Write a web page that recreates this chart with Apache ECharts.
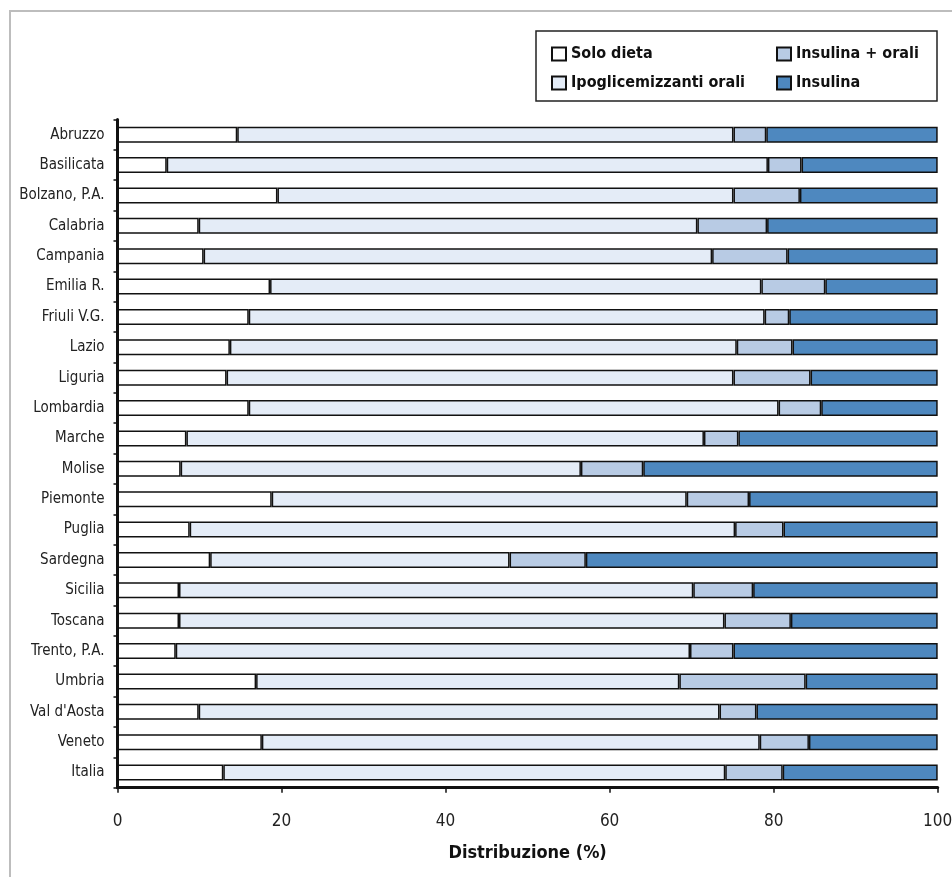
<!DOCTYPE html>
<html>
<head>
<meta charset="utf-8">
<script src="https://cdn.jsdelivr.net/npm/echarts@6/dist/echarts.min.js"></script>
<style>
html,body{margin:0;padding:0;background:#fff;overflow:hidden;}
#chart{width:952px;height:877px;}
</style>
</head>
<body>
<div id="chart"></div>
<script>
const categories = ["Abruzzo","Basilicata","Bolzano, P.A.","Calabria","Campania","Emilia R.","Friuli V.G.","Lazio","Liguria","Lombardia","Marche","Molise","Piemonte","Puglia","Sardegna","Sicilia","Toscana","Trento, P.A.","Umbria","Val d'Aosta","Veneto","Italia"];
const soloDieta      = [14.6, 6.0,19.5, 9.9,10.5,18.6,16.0,13.7,13.3,16.0, 8.4, 7.7,18.8, 8.8,11.3, 7.5, 7.5, 7.1,16.9, 9.9,17.6,12.9];
const ipoglicemizzanti = [60.5,73.3,55.6,60.8,62.0,59.9,62.9,61.8,61.8,64.6,63.1,48.8,50.6,66.5,36.5,62.7,66.5,62.7,51.6,63.5,60.7,61.2];
const insulinaOrali  = [ 4.0, 4.1, 8.1, 8.5, 9.2, 7.8, 3.0, 6.8, 9.4, 5.2, 4.2, 7.6, 7.6, 5.9, 9.3, 7.3, 8.1, 5.3,15.4, 4.5, 6.0, 7.0];
const insulina       = [20.9,16.6,16.8,20.8,18.3,13.7,18.1,17.7,15.5,14.2,24.3,35.9,23.0,18.8,42.9,22.5,17.9,24.9,16.1,22.1,15.7,18.9];
const xTicks = [0,20,40,60,80,100];

const FONT = "'Liberation Sans Narrow','DejaVu Sans Condensed','Roboto Condensed',sans-serif";
const chart = echarts.init(document.getElementById('chart'), null, {renderer:'canvas'});

function bar(name, data, color){
  return {
    name: name, type: 'bar', stack: 'tot', data: data,
    barWidth: 16,
    itemStyle: {color: color, borderColor: '#111', borderWidth: 1.5},
    emphasis: {disabled: true}
  };
}

const legendText = {fontFamily:FONT, fontWeight:'bold', fontSize:16, color:'#111'};

chart.setOption({
  animation: false,
  backgroundColor: '#fff',
  textStyle: {fontFamily: FONT},
  graphic: [
    {type:'rect', z:0, shape:{x:10,y:11,width:1000,height:1000}, style:{fill:'none', stroke:'#bdbdbd', lineWidth:2}},
    {type:'rect', z:0, shape:{x:536,y:31,width:401,height:70}, style:{fill:'#fff', stroke:'#222', lineWidth:1.5}}
  ],
  legend: [
    {data:['Solo dieta','Ipoglicemizzanti orali'], orient:'vertical', left:551, top:46, padding:0, itemGap:13,
     itemWidth:14, itemHeight:13, selectedMode:false, icon:'rect', textStyle:legendText},
    {data:['Insulina + orali','Insulina'], orient:'vertical', left:776, top:46, padding:0, itemGap:13,
     itemWidth:14, itemHeight:13, selectedMode:false, icon:'rect', textStyle:legendText}
  ],
  grid: {left:117.5, right:14.3, top:119.5, bottom:89.3, containLabel:false, outerBoundsMode:'none'},
  xAxis: {
    type:'value', min:xTicks[0], max:xTicks[xTicks.length-1], interval:20,
    name:'Distribuzione (%)', nameLocation:'middle', nameGap:57,
    nameTextStyle:{fontFamily:FONT, fontWeight:'bold', fontSize:18, color:'#111'},
    axisLine:{show:true, lineStyle:{color:'#111', width:3}},
    axisTick:{show:true, inside:false, length:5, lineStyle:{color:'#111', width:1.5}},
    axisLabel:{fontFamily:FONT, fontSize:17, color:'#222', margin:25},
    splitLine:{show:false}
  },
  yAxis: {
    type:'category', data:categories, inverse:true,
    axisLine:{show:true, lineStyle:{color:'#111', width:3}},
    axisTick:{show:true, inside:false, length:4, lineStyle:{color:'#111', width:1.5}},
    axisLabel:{fontFamily:FONT, fontSize:15, color:'#222', margin:13},
    splitLine:{show:false}
  },
  series: [
    bar('Solo dieta', soloDieta, '#ffffff'),
    bar('Ipoglicemizzanti orali', ipoglicemizzanti, '#e4ecf7'),
    bar('Insulina + orali', insulinaOrali, '#b8cbe4'),
    bar('Insulina', insulina, '#4e88bf')
  ]
});
</script>
</body>
</html>
